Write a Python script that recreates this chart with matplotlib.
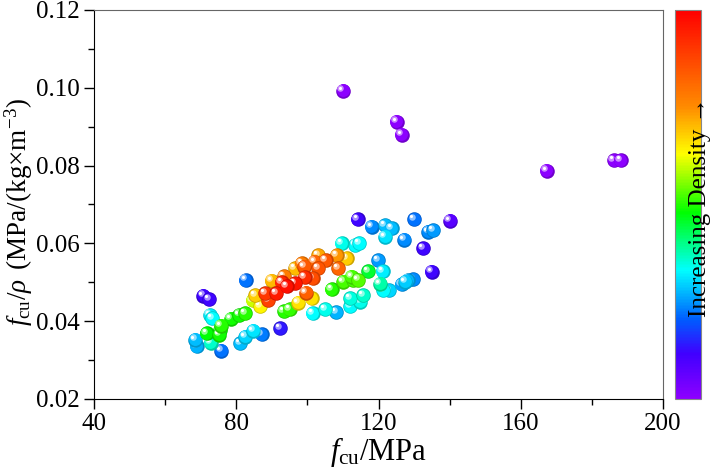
import matplotlib
matplotlib.use("Agg")
import matplotlib.pyplot as plt
import numpy as np
from matplotlib.colors import LinearSegmentedColormap, Normalize
from matplotlib.transforms import offset_copy
from matplotlib.cm import ScalarMappable

plt.rcParams["font.family"] = ["Liberation Serif", "DejaVu Serif"]
plt.rcParams["mathtext.fontset"] = "custom"
plt.rcParams["mathtext.rm"] = "Liberation Serif"
plt.rcParams["mathtext.it"] = "Liberation Serif:italic"

# fcu (MPa), fcu/rho, colour (relative density of points, 0..1)
fcu = [110.0, 125.1, 126.5, 167.3, 186.2, 188.1,
       70.7, 72.4, 82.7, 72.6, 73.3, 68.4, 68.9, 72.8, 75.8, 71.7,
       75.2, 75.4, 75.7, 78.5, 80.9, 82.5, 81.1, 82.5, 84.8, 87.2,
       92.3, 84.6, 86.7, 85.3, 89.0, 91.2, 94.2, 96.5, 90.0, 93.4,
       96.5, 98.4, 99.3, 99.6, 97.5, 93.4, 95.0, 88.1, 92.8,
       114.1, 118.1, 121.8, 123.7, 121.8, 127.2, 130.1, 134.0, 135.4, 132.6,
       140.1, 109.6, 113.4, 114.6, 103.1, 102.1, 105.2, 108.2, 111.1, 108.7,
       103.1, 99.1, 101.5, 101.2, 101.5, 105.0, 108.1, 106.8, 110.1, 112.9,
       114.3, 112.5, 117.1, 112.0, 115.7, 114.8, 112.0, 119.9, 121.2, 120.4,
       121.4, 123.0, 126.5, 128.2, 129.8, 135.0, 127.5]
ratio = [0.0992, 0.0913, 0.0879, 0.0787, 0.0814, 0.0814,
         0.0466, 0.0457, 0.0506, 0.0416, 0.0407, 0.0352, 0.0336, 0.0345, 0.0324, 0.0369,
         0.0365, 0.0377, 0.0388, 0.0406, 0.0416, 0.0420, 0.0343, 0.0360, 0.0376, 0.0366,
         0.0382, 0.0454, 0.0439, 0.0467, 0.0454, 0.0472, 0.0490, 0.0497, 0.0504, 0.0516,
         0.0536, 0.0549, 0.0513, 0.0473, 0.0448, 0.0426, 0.0431, 0.0472, 0.0500,
         0.0662, 0.0643, 0.0647, 0.0639, 0.0617, 0.0609, 0.0662, 0.0630, 0.0634, 0.0587,
         0.0658, 0.0600, 0.0596, 0.0600, 0.0570, 0.0553, 0.0557, 0.0570, 0.0562, 0.0536,
         0.0536, 0.0540, 0.0510, 0.0459, 0.0420, 0.0431, 0.0423, 0.0482, 0.0502, 0.0506,
         0.0506, 0.0514, 0.0529, 0.0459, 0.0467, 0.0450, 0.0439, 0.0557, 0.0529, 0.0496,
         0.0480, 0.0480, 0.0495, 0.0506, 0.0508, 0.0527, 0.0502]
dens = [0.0, 0.0, 0.0, 0.0, 0.0, 0.0,
        0.12, 0.12, 0.22, 0.32, 0.33, 0.28, 0.27, 0.36, 0.22, 0.48,
        0.49, 0.48, 0.50, 0.49, 0.49, 0.50, 0.28, 0.30, 0.31, 0.23,
        0.14, 0.60, 0.64, 0.68, 0.88, 0.95, 0.97, 0.96, 0.70, 0.78,
        0.70, 0.78, 0.92, 0.83, 0.66, 0.50, 0.51, 0.90, 0.93,
        0.12, 0.24, 0.28, 0.28, 0.31, 0.24, 0.22, 0.24, 0.25, 0.12,
        0.08, 0.34, 0.33, 0.33, 0.72, 0.82, 0.84, 0.74, 0.68, 0.82,
        0.85, 0.84, 0.86, 0.66, 0.33, 0.34, 0.27, 0.50, 0.52, 0.52,
        0.53, 0.52, 0.45, 0.35, 0.36, 0.34, 0.33, 0.25, 0.32, 0.38,
        0.33, 0.30, 0.26, 0.27, 0.24, 0.12, 0.29]

cmap = LinearSegmentedColormap.from_list("origin_rainbow", [
    (0.0, (0.55, 0.0, 1.0)),
    (0.115, (0.25, 0.0, 1.0)),
    (0.2, (0.0, 0.35, 1.0)),
    (0.33, (0.0, 1.0, 1.0)),
    (0.48, (0.0, 1.0, 0.0)),
    (0.63, (1.0, 1.0, 0.0)),
    (0.75, (1.0, 0.55, 0.0)),
    (1.0, (1.0, 0.0, 0.0)),
])
norm = Normalize(0, 1)

fig = plt.figure(figsize=(7.2, 4.69), dpi=100)
ax = fig.add_axes([0.1306, 0.1493, 0.7902, 0.8294])

off_body = offset_copy(ax.transData, fig=fig, x=-0.4, y=0.4, units="dots")
off_glow = offset_copy(ax.transData, fig=fig, x=-2.5, y=2.5, units="dots")
off_spec = offset_copy(ax.transData, fig=fig, x=-3.0, y=3.0, units="dots")

# draw low density first so the dense (red) balls sit on top
order = np.argsort(dens, kind="stable")
z = 2
for i in order:
    c = np.array(cmap(norm(dens[i]))[:3])
    dark = c * 0.8
    light = c + (1 - c) * 0.55
    ax.scatter(fcu[i], ratio[i], s=110, color=dark, linewidths=0, zorder=z)
    ax.scatter(fcu[i], ratio[i], s=86, color=c, linewidths=0, zorder=z + 0.1,
               transform=off_body)
    ax.scatter(fcu[i], ratio[i], s=22, color=light, linewidths=0, zorder=z + 0.2,
               transform=off_glow)
    ax.scatter(fcu[i], ratio[i], s=5, color="white", linewidths=0, zorder=z + 0.3,
               transform=off_spec)
    z += 1

ax.set_xlim(40, 200)
ax.set_ylim(0.02, 0.12)
ax.set_xticks([40, 80, 120, 160, 200])
ax.set_xticks([60, 100, 140, 180], minor=True)
ax.set_yticks([0.02, 0.04, 0.06, 0.08, 0.10, 0.12])
ax.set_yticks(np.arange(0.03, 0.12, 0.02), minor=True)
ax.set_yticklabels(["0.02", "0.04", "0.06", "0.08", "0.10", "0.12"])
ax.tick_params(which="major", direction="out", length=7, width=1, labelsize=18,
               top=False, right=False, colors="black", pad=3)
ax.tick_params(which="minor", direction="out", length=4, width=1,
               top=False, right=False)
for s in ["left", "bottom"]:
    ax.spines[s].set_color("black")
for s in ["top", "right"]:
    ax.spines[s].set_color("#666666")

ax.set_xlabel(r"$f_{\mathrm{cu}}$/MPa", fontsize=22, labelpad=0)
ax.set_ylabel(r"$f_{\mathrm{cu}}/\rho$ $\,$(MPa/(kg×m$^{-3}$)", fontsize=19.5)
ax.yaxis.set_label_coords(-0.104, 0.48)

cax = fig.add_axes([0.9375, 0.1493, 0.036, 0.8294])
cb = fig.colorbar(ScalarMappable(norm=norm, cmap=cmap), cax=cax)
cb.set_ticks([])
cb.outline.set_edgecolor("#888888")
cb.outline.set_linewidth(0.8)
fig.text(0.972, 0.559, "Increasing Density →", rotation=90, fontsize=18,
         ha="center", va="center")

fig.savefig("out.png", dpi=100)
